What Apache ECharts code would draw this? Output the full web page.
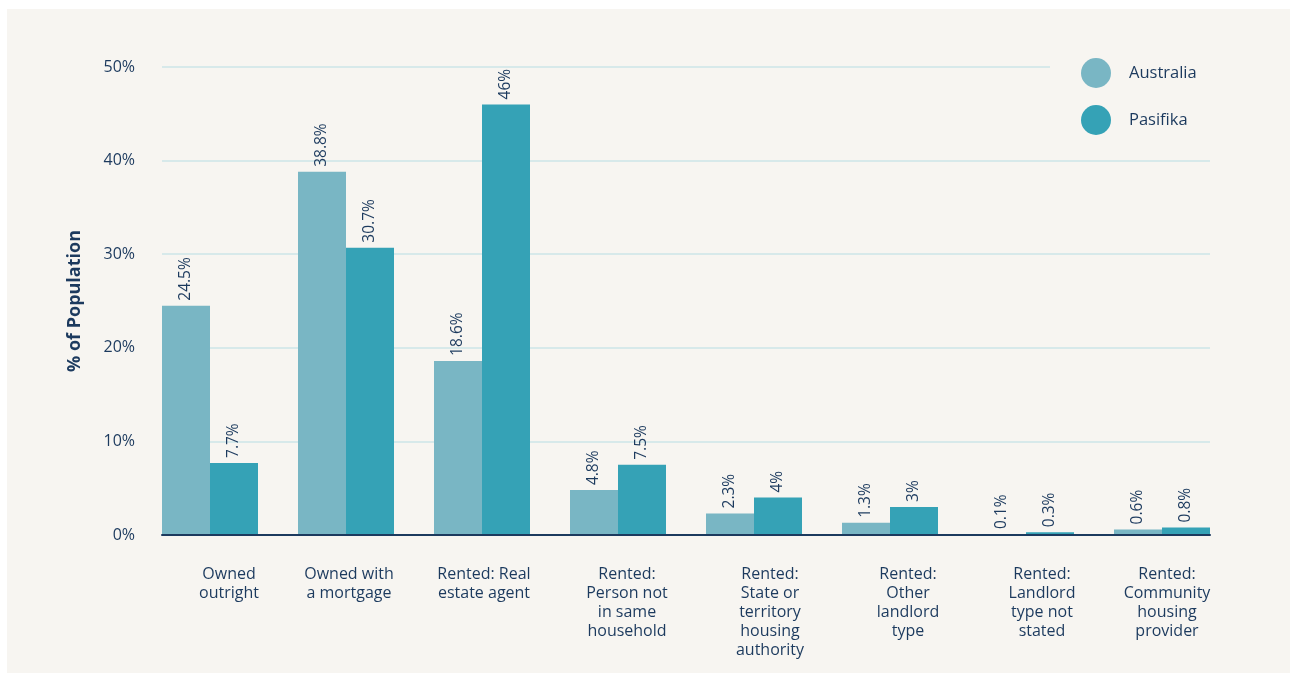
<!DOCTYPE html>
<html>
<head>
<meta charset="utf-8">
<script src="https://cdn.jsdelivr.net/npm/echarts@6/dist/echarts.min.js"></script>
<style>
  html, body { margin: 0; padding: 0; background: #ffffff; }
  #panel { position: absolute; left: 7px; top: 9px; width: 1283px; height: 664px; background: #f7f5f1; }
  #chart { position: absolute; left: -7px; top: -9px; width: 1290px; height: 673px; }
</style>
</head>
<body>
<div id="panel"><div id="chart"></div></div>
<script>
// Housing tenure, share of population
const categories = [
  'Owned\noutright',
  'Owned with\na mortgage',
  'Rented: Real\nestate agent',
  'Rented:\nPerson not\nin same\nhousehold',
  'Rented:\nState or\nterritory\nhousing\nauthority',
  'Rented:\nOther\nlandlord\ntype',
  'Rented:\nLandlord\ntype not\nstated',
  'Rented:\nCommunity\nhousing\nprovider'
];
const australia = [24.5, 38.8, 18.6, 4.8, 2.3, 1.3, 0.1, 0.6];
const pasifika = [7.7, 30.7, 46, 7.5, 4, 3, 0.3, 0.8];
const seriesNames = ['Australia', 'Pasifika'];
// small horizontal nudges for each category label
const labelShift = [19, 3, 2, 9, 16, 18, 16, 5];

const navy = '#1c3a5e';
const font = 'Open Sans';

const chart = echarts.init(document.getElementById('chart'), null, { renderer: 'canvas' });

const valueLabel = {
  show: true,
  position: 'top',
  rotate: 90,
  align: 'left',
  verticalAlign: 'middle',
  distance: 5,
  color: navy,
  fontFamily: font,
  fontSize: 15.5,
  formatter: p => p.value + '%'
};

chart.setOption({
  backgroundColor: 'transparent',
  animation: false,
  textStyle: { fontFamily: font },
  legend: {
    data: seriesNames,
    orient: 'vertical',
    left: 1050,
    top: 44,
    icon: 'circle',
    itemWidth: 30,
    itemHeight: 30,
    itemGap: 17,
    padding: [14, 24, 14, 31],
    backgroundColor: '#f7f5f1',
    z: 10,
    textStyle: { color: navy, fontSize: 16.5, fontFamily: font, padding: [0, 0, 0, 13] }
  },
  grid: [
    { left: 142, right: 60, top: 67, bottom: 138 },
    { left: 162, right: 80, top: 67, bottom: 138 }
  ],
  xAxis: [
    {
      type: 'category',
      gridIndex: 0,
      data: categories.map((c, i) => ({
        value: c,
        textStyle: { padding: [0, 0, 0, labelShift[i] * 2] }
      })),
      axisLine: { show: false },
      axisTick: { show: false },
      axisLabel: {
        color: navy,
        fontSize: 16,
        fontFamily: font,
        lineHeight: 19,
        margin: 30,
        interval: 0
      }
    },
    {
      type: 'value',
      gridIndex: 1,
      min: 0,
      max: 1,
      show: true,
      axisLabel: { show: false },
      axisTick: { show: false },
      splitLine: { show: false },
      axisLine: { show: true, lineStyle: { color: navy, width: 2 } },
      z: 5
    }
  ],
  yAxis: [
    {
      type: 'value',
      gridIndex: 0,
      min: 0,
      max: 50,
      interval: 10,
      show: false,
      splitLine: { show: false }
    },
    {
      type: 'value',
      gridIndex: 1,
      min: 0,
      max: 50,
      interval: 10,
      name: '% of Population',
      nameLocation: 'middle',
      nameGap: 78,
      nameTextStyle: { color: navy, fontSize: 18, fontWeight: 'bold', fontFamily: font },
      axisLine: { show: false },
      axisTick: { show: false },
      axisLabel: {
        color: navy,
        fontSize: 16,
        fontFamily: font,
        margin: 27,
        formatter: v => v + '%'
      },
      splitLine: { show: true, lineStyle: { color: '#cde5e7', width: 1.5 } }
    }
  ],
  series: [
    {
      name: seriesNames[0],
      type: 'bar',
      xAxisIndex: 0,
      yAxisIndex: 0,
      data: australia,
      barWidth: 48,
      barGap: '0%',
      itemStyle: { color: '#79b6c4' },
      label: valueLabel,
      z: 3
    },
    {
      name: seriesNames[1],
      type: 'bar',
      xAxisIndex: 0,
      yAxisIndex: 0,
      data: pasifika,
      barWidth: 48,
      barGap: '0%',
      itemStyle: { color: '#35a2b6' },
      label: valueLabel,
      z: 3
    }
  ]
});
</script>
</body>
</html>
